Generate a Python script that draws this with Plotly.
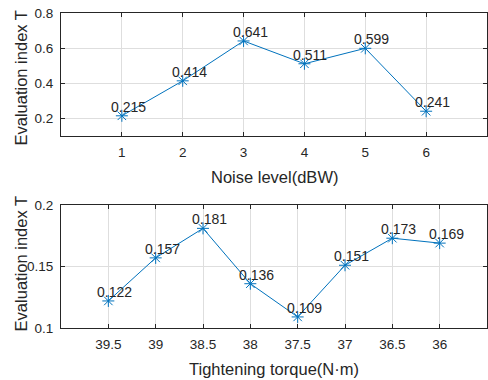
import plotly.graph_objects as go

noise_levels = [1, 2, 3, 4, 5, 6]
noise_T = [0.215, 0.414, 0.641, 0.511, 0.599, 0.241]
noise_labels = ["0.215", "0.414", "0.641", "0.511", "0.599", "0.241"]

torques = [39.5, 39, 38.5, 38, 37.5, 37, 36.5, 36]
torque_T = [0.122, 0.157, 0.181, 0.136, 0.109, 0.151, 0.173, 0.169]
torque_labels = ["0.122", "0.157", "0.181", "0.136", "0.109", "0.151", "0.173", "0.169"]

top_yticks = [0.2, 0.4, 0.6, 0.8]
bot_yticks = [0.1, 0.15, 0.2]

color = "#0072BD"
font = "Liberation Sans, Arial, sans-serif"
dark = "#262626"

fig = go.Figure()
fig.add_trace(go.Scatter(x=noise_levels, y=noise_T, mode="lines+markers",
                         line=dict(color=color, width=1),
                         marker=dict(symbol="asterisk-open", size=10, color=color,
                                     line=dict(color=color, width=1)),
                         xaxis="x", yaxis="y", showlegend=False))
fig.add_trace(go.Scatter(x=torques, y=torque_T, mode="lines+markers",
                         line=dict(color=color, width=1),
                         marker=dict(symbol="asterisk-open", size=10, color=color,
                                     line=dict(color=color, width=1)),
                         xaxis="x2", yaxis="y2", showlegend=False))

annotations = []
for x, y, t in zip(noise_levels, noise_T, noise_labels):
    annotations.append(dict(x=x, y=y, xref="x", yref="y", text=t, showarrow=False,
                            xanchor="left", yanchor="middle", xshift=-13, yshift=9,
                            font=dict(family=font, size=14, color=dark)))
for x, y, t in zip(torques, torque_T, torque_labels):
    annotations.append(dict(x=x, y=y, xref="x2", yref="y2", text=t, showarrow=False,
                            xanchor="left", yanchor="middle", xshift=-13, yshift=9,
                            font=dict(family=font, size=14, color=dark)))

title_font = dict(family=font, size=16.5, color=dark)
# axis titles
annotations += [
    dict(text="Noise level(dBW)", xref="paper", yref="paper", x=0.5, y=0.478,
         xanchor="center", yanchor="middle", showarrow=False, font=title_font),
    dict(text="Tightening torque(N·m)", xref="paper", yref="paper", x=0.5, y=-0.13,
         xanchor="center", yanchor="middle", showarrow=False, font=title_font),
    dict(text="Evaluation index T", xref="paper", yref="paper", x=-0.094, y=0.795,
         xanchor="center", yanchor="middle", textangle=-90, showarrow=False, font=title_font),
    dict(text="Evaluation index T", xref="paper", yref="paper", x=-0.094, y=0.205,
         xanchor="center", yanchor="middle", textangle=-90, showarrow=False, font=title_font),
]

axis_common = dict(showline=True, mirror="ticks", linecolor=dark, linewidth=1,
                   ticks="inside", ticklen=4, tickcolor=dark,
                   showgrid=True, gridcolor="#dedede", gridwidth=1, zeroline=False,
                   tickfont=dict(family=font, size=13.5, color=dark))

fig.update_layout(
    width=488, height=380,
    margin=dict(l=61, r=1, t=13, b=52),
    paper_bgcolor="white", plot_bgcolor="white",
    annotations=annotations,
    xaxis=dict(domain=[0, 1], anchor="y", range=[0, 7], tickvals=noise_levels,
               ticklabelstandoff=4, **axis_common),
    yaxis=dict(domain=[0.6095, 1], anchor="x", range=[0.1, 0.8], tickvals=top_yticks,
               ticktext=["0.2", "0.4", "0.6", "0.8"], ticklabelstandoff=4, **axis_common),
    xaxis2=dict(domain=[0, 1], anchor="y2", range=[40, 35.5], tickvals=torques,
                ticktext=[str(v) for v in torques], ticklabelstandoff=4, **axis_common),
    yaxis2=dict(domain=[0, 0.3905], anchor="x2", range=[0.1, 0.2], tickvals=bot_yticks,
                ticktext=["0.1", "0.15", "0.2"], ticklabelstandoff=4, **axis_common),
)

fig.write_html("out.html")
